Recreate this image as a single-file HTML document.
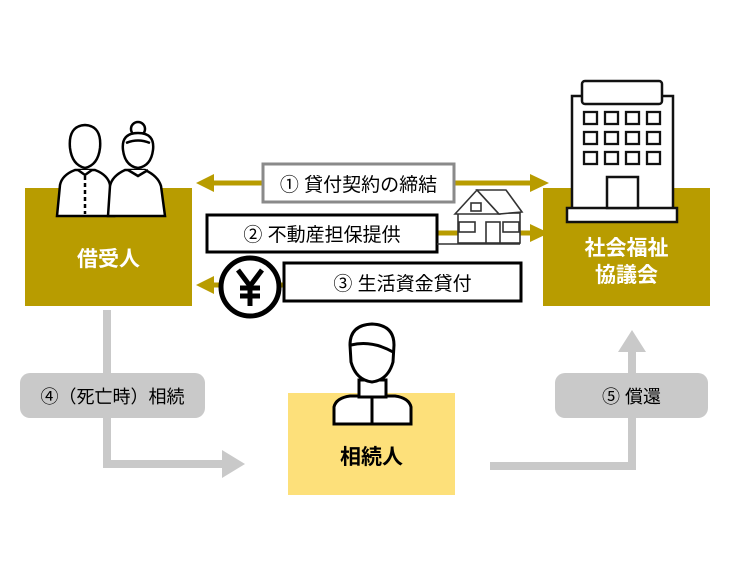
<!DOCTYPE html>
<html><head><meta charset="utf-8"><style>
html,body{margin:0;padding:0;background:#fff;}
body{width:750px;height:562px;position:relative;overflow:hidden;font-family:"Liberation Sans","Noto Sans CJK JP",sans-serif;}
.a{position:absolute;box-sizing:border-box;display:flex;align-items:center;justify-content:center;}
</style></head><body>
<svg width="750" height="562" style="position:absolute;left:0;top:0">
<rect x="25" y="188" width="167" height="118" fill="#b89c00"/>
<rect x="543" y="188" width="167" height="118" fill="#b89c00"/>
<g fill="#b89c00" stroke="#b89c00">
<line x1="210" y1="183" x2="532" y2="183" stroke-width="5"/>
<polygon points="196,183 214,174 214,192" stroke="none"/>
<polygon points="549,183 530,174 530,192" stroke="none"/>
<line x1="438" y1="233" x2="530" y2="233" stroke-width="5"/>
<polygon points="549,233 530,224 530,242" stroke="none"/>
<line x1="210" y1="285" x2="285" y2="285" stroke-width="5"/>
<polygon points="196,285 214,276 214,294" stroke="none"/>
</g>
<g fill="#c9c9c9">
<rect x="103" y="310" width="8" height="158"/>
<rect x="103" y="460" width="120" height="8"/>
<polygon points="222,450 245,464 222,478"/>
<rect x="490" y="462" width="146" height="8"/>
<rect x="628" y="350" width="8" height="120"/>
<polygon points="618,352 632,330 646,352"/>
<rect x="20" y="373" width="185" height="45" rx="10"/>
<rect x="555" y="373" width="153" height="45" rx="10"/>
</g>
<rect x="288" y="393" width="167" height="102" fill="#fde07a"/>
<rect x="263" y="164" width="191" height="38" fill="#fff" stroke="#8a8a8a" stroke-width="3"/>
<rect x="207" y="215" width="230" height="37" fill="#fff" stroke="#000" stroke-width="3"/>
<rect x="284" y="263" width="237" height="38" fill="#fff" stroke="#000" stroke-width="3"/>
<circle cx="250" cy="287" r="29" fill="#fff" stroke="#000" stroke-width="5"/>
<g stroke="#000" stroke-width="5" fill="none">
<polyline points="238,270 250,286 262,270"/>
<line x1="250" y1="286" x2="250" y2="306"/>
<line x1="240" y1="288" x2="260" y2="288"/>
<line x1="240" y1="296" x2="260" y2="296"/>
</g>
<g stroke="#333" stroke-width="1.6" fill="#fff">
<rect x="458" y="213" width="62" height="30"/>
<polygon points="455,214 477,190 499,214"/>
<polygon points="477,190 506,190 522,212 499,214"/>
<rect x="471" y="203" width="10" height="8"/>
<rect x="459" y="222" width="16" height="10"/>
<rect x="486" y="222" width="14" height="21"/>
<rect x="503" y="222" width="16" height="10"/>
<line x1="437" y1="244" x2="520" y2="244"/>
</g>
<g stroke="#000" stroke-width="2.5" fill="#fff">
<path d="M57,216 L60,185 Q62,175 75,170 L95,170 Q108,175 110,185 L114,216 Z"/>
<path d="M70,148 Q68,126 85,125 Q102,126 100,148 Q98,165 85,168 Q72,165 70,148 Z"/>
<path d="M78,170 L85,175 L92,170"/>
<line x1="85" y1="176" x2="85" y2="214" stroke-dasharray="4,3"/>
<path d="M108,216 L110,186 Q112,176 125,170 L145,170 Q158,176 161,186 L165,216 Z"/>
<circle cx="138" cy="129" r="7"/>
<path d="M123,150 Q121,133 138,133 Q155,133 153,150 Q151,166 138,168 Q125,166 123,150 Z"/>
<path d="M126,143 Q138,138 150,143" fill="none"/>
<path d="M128,170 L138,176 L148,170"/>
</g>
<g stroke="#000" stroke-width="3" fill="#fff">
<path d="M334,424 L334,407 Q336,398 350,396 L395,396 Q409,398 411,407 L411,424 Z"/>
<rect x="359" y="380" width="27" height="17"/>
<path d="M350,345 Q350,325 372,324 Q394,325 394,345 L393,362 Q388,380 372,382 Q356,380 351,362 Z"/>
<path d="M351,345 Q372,340 393,352" fill="none"/>
<line x1="372" y1="397" x2="372" y2="424"/>
</g>
<g stroke="#111" stroke-width="2.5" fill="#fff">
<rect x="572" y="96" width="101" height="113"/>
<rect x="582" y="81" width="80" height="23" rx="3"/>
<rect x="567" y="208" width="110" height="14"/>
<rect x="607" y="177" width="31" height="31"/>
</g>
<g stroke="#111" stroke-width="2.3" fill="#fff">
<rect x="584" y="112" width="13" height="12"/><rect x="605" y="112" width="13" height="12"/><rect x="626" y="112" width="13" height="12"/><rect x="647" y="112" width="13" height="12"/>
<rect x="584" y="132" width="13" height="12"/><rect x="605" y="132" width="13" height="12"/><rect x="626" y="132" width="13" height="12"/><rect x="647" y="132" width="13" height="12"/>
<rect x="584" y="152" width="13" height="12"/><rect x="605" y="152" width="13" height="12"/><rect x="626" y="152" width="13" height="12"/><rect x="647" y="152" width="13" height="12"/>
</g>
</svg>
<div class="a" style="left:263px;top:164px;width:191px;height:38px;font-size:19px;">① 貸付契約の締結</div>
<div class="a" style="left:207px;top:215px;width:230px;height:37px;font-size:19px;">② 不動産担保提供</div>
<div class="a" style="left:284px;top:263px;width:237px;height:38px;font-size:19px;">③ 生活資金貸付</div>
<div class="a" style="left:25px;top:238px;width:167px;height:40px;font-size:21px;font-weight:bold;color:#fff;">借受人</div>
<div class="a" style="left:543px;top:232px;width:167px;height:60px;font-size:21px;font-weight:bold;color:#fff;line-height:27px;text-align:center;">社会福祉<br>協議会</div>
<div class="a" style="left:20px;top:373px;width:185px;height:45px;font-size:18px;">④（死亡時）相続</div>
<div class="a" style="left:555px;top:373px;width:153px;height:45px;font-size:18px;">⑤ 償還</div>
<div class="a" style="left:288px;top:438px;width:167px;height:36px;font-size:21px;font-weight:bold;">相続人</div>
</body></html>
